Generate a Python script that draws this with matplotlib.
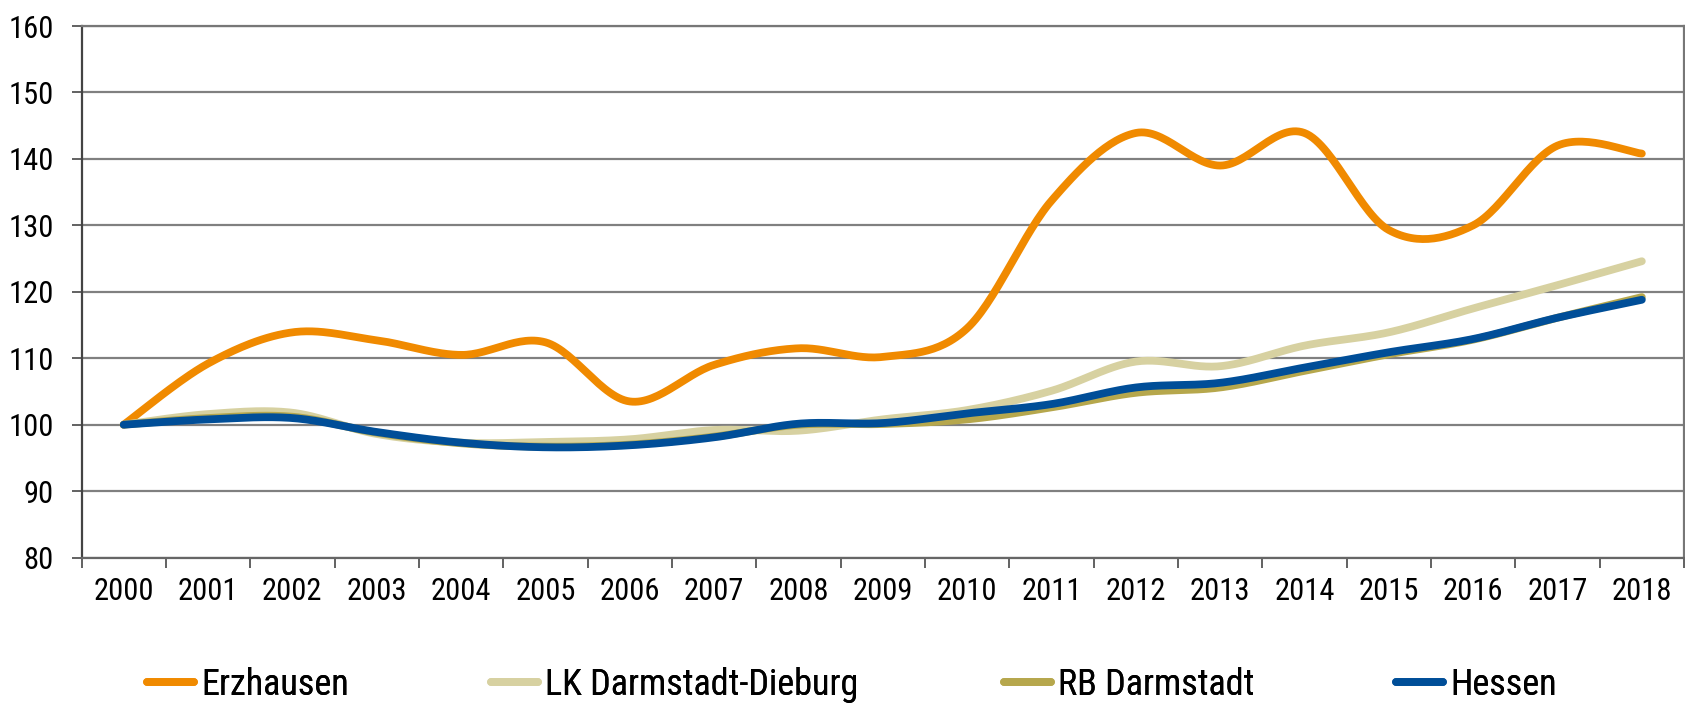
import numpy as np
import matplotlib
matplotlib.use("Agg")
import matplotlib.pyplot as plt
from matplotlib.lines import Line2D
from matplotlib import font_manager as fm

years = [str(y) for y in range(2000, 2019)]
erzhausen = [100, 109.2, 113.9, 112.7, 110.5, 112.4, 103.5, 109.0, 111.5, 110.2,
             114.5, 133.7, 143.9, 139.0, 143.9, 129.3, 130.0, 142.0, 140.8]
lk_darmstadt_dieburg = [100, 101.6, 101.8, 98.6, 97.3, 97.4, 97.8, 99.2, 99.1, 100.8,
                        102.2, 105.1, 109.5, 108.8, 111.9, 113.9, 117.5, 121.0, 124.6]
rb_darmstadt = [100, 101.0, 101.2, 98.8, 97.2, 96.7, 97.0, 98.2, 100.0, 100.1,
                100.8, 102.6, 104.8, 105.6, 108.1, 110.6, 112.8, 116.1, 119.2]
hessen = [100, 100.8, 101.0, 98.9, 97.3, 96.6, 96.9, 98.1, 100.15, 100.25,
          101.7, 103.1, 105.6, 106.3, 108.6, 110.9, 112.9, 116.1, 118.8]
series_names = ["Erzhausen", "LK Darmstadt-Dieburg", "RB Darmstadt", "Hessen"]
colors = ["#F08A00", "#D7D1A1", "#B6A74C", "#004E98"]
yticks = [80, 90, 100, 110, 120, 130, 140, 150, 160]

names = {f.name for f in fm.fontManager.ttflist}
prefs = ["Liberation Sans Narrow", "Arial Narrow", "Nimbus Sans Narrow", "Roboto Condensed",
         "PT Sans Narrow", "Pragati Narrow", "Archivo Narrow", "Liberation Sans"]
font = next((p for p in prefs if p in names), "DejaVu Sans")
plt.rcParams['font.family'] = [font, 'DejaVu Sans']
FS = 22
LFS = 26


def smooth(y, n=30):
    """Bezier smoothing like a spreadsheet 'smoothed line'."""
    y = np.asarray(y, float)
    x = np.arange(len(y), dtype=float)
    P = np.column_stack([x, y])
    P = np.vstack([P[0], P, P[-1]])
    out = []
    t = np.linspace(0, 1, n, endpoint=False)[:, None]
    for i in range(1, len(P) - 2):
        p0, p1, p2, p3 = P[i - 1], P[i], P[i + 1], P[i + 2]
        c1 = p1 + (p2 - p0) / 6
        c2 = p2 - (p3 - p1) / 6
        seg = ((1 - t) ** 3) * p1 + 3 * ((1 - t) ** 2) * t * c1 + 3 * (1 - t) * t ** 2 * c2 + t ** 3 * p2
        out.append(seg)
    out.append(P[-2][None, :])
    S = np.vstack(out)
    return S[:, 0], S[:, 1]


fig = plt.figure(figsize=(16.85, 7.08), dpi=100)
ax = fig.add_axes([81.5 / 1685, 1 - 557.6 / 708, (1684 - 81.5) / 1685, (557.6 - 26) / 708])

data = [erzhausen, lk_darmstadt_dieburg, rb_darmstadt, hessen]
for vals, c, name in zip(data, colors, series_names):
    sx, sy = smooth(vals)
    ax.plot(sx, sy, color=c, lw=5.6, solid_capstyle='round', solid_joinstyle='round', label=name, zorder=3)

ax.set_xlim(-0.5, len(years) - 0.5)
ax.set_ylim(80, 160)
ax.set_yticks(yticks)
ax.set_yticklabels([str(v) for v in yticks])
ax.set_xticks(range(len(years)))
ax.set_xticklabels(years)
ax.set_xticks(np.arange(-0.5, len(years), 1.0), minor=True)
ax.tick_params(axis='x', which='major', length=0, pad=14, labelsize=FS)
ax.tick_params(axis='x', which='minor', length=7, width=1.3, color='#555555')
ax.tick_params(axis='y', length=7, width=1.3, color='#555555', pad=13, labelsize=FS)
ax.grid(axis='y', color='#808080', lw=1.6, zorder=1)
for s in ax.spines.values():
    s.set_color('#777777')
    s.set_linewidth(1.6)
ax.spines['left'].set_color('#444444')
ax.spines['bottom'].set_color('#666666')

# legend entries, each anchored at its position below the chart
legend_x = [147, 491, 1004, 1396]
for c, name, lx in zip(colors, series_names, legend_x):
    h = Line2D([], [], color=c, lw=5.6, solid_capstyle='round')
    leg = fig.legend([h], [name], loc='center left', bbox_to_anchor=(lx / 1685, 1 - 685 / 708),
                     frameon=False, fontsize=LFS, handlelength=1.3, handletextpad=0.2,
                     borderaxespad=0, borderpad=0)
    fig.add_artist(leg)

fig.savefig("out.png", dpi=100)
